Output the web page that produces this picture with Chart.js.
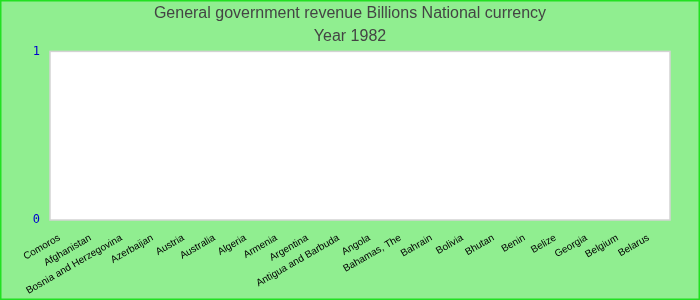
<!DOCTYPE html>
<html>
<head>
<meta charset="utf-8">
<title>General government revenue</title>
<script src="https://cdn.jsdelivr.net/npm/chart.js@4/dist/chart.umd.min.js"></script>
<style>
  html, body { margin: 0; padding: 0; background: #90ee90; }
  #wrap { width: 700px; height: 300px; position: relative; }
</style>
</head>
<body>
<div id="wrap"><canvas id="chart"></canvas></div>
<script>
// --------------------
// Data (nothing is plotted for 1982, every value is missing)
// --------------------
const countries = [
  'Comoros', 'Afghanistan', 'Bosnia and Herzegovina', 'Azerbaijan', 'Austria',
  'Australia', 'Algeria', 'Armenia', 'Argentina', 'Antigua and Barbuda',
  'Angola', 'Bahamas, The', 'Bahrain', 'Bolivia', 'Bhutan',
  'Benin', 'Belize', 'Georgia', 'Belgium', 'Belarus'
];
const revenue = [
  null, null, null, null, null, null, null, null, null, null,
  null, null, null, null, null, null, null, null, null, null
];
const yTicks = [0, 1];
const titleLines = ['General government revenue Billions National currency', 'Year 1982'];

// --------------------
// Plot area background + outer frame
// --------------------
const frame = {
  id: 'frame',
  beforeDraw(chart) {
    const { ctx, chartArea: a } = chart;
    ctx.save();
    ctx.fillStyle = '#ffffff';
    ctx.fillRect(a.left, a.top, a.right - a.left, a.bottom - a.top);
    ctx.strokeStyle = '#d3d3d3';
    ctx.lineWidth = 1.5;
    ctx.strokeRect(a.left, a.top, a.right - a.left, a.bottom - a.top);
    ctx.restore();
  },
  afterDraw(chart) {
    const ctx = chart.ctx;
    ctx.save();
    ctx.strokeStyle = '#22e022';
    ctx.lineWidth = 1.5;
    ctx.strokeRect(0.75, 0.75, chart.width - 1.5, chart.height - 1.5);
    ctx.restore();
  }
};

const ctx = document.getElementById('chart').getContext('2d');
new Chart(ctx, {
  type: 'bar',
  data: {
    labels: countries,
    datasets: [{ label: 'Revenue', data: revenue, backgroundColor: '#3366cc' }]
  },
  options: {
    responsive: true,
    maintainAspectRatio: false,
    animation: false,
    layout: { padding: 0 },
    plugins: {
      legend: { display: false },
      tooltip: { enabled: false },
      title: {
        display: true,
        text: titleLines,
        color: '#444444',
        font: { family: 'Liberation Sans, Arial, sans-serif', size: 16, weight: 'normal', lineHeight: 1.45 },
        padding: { top: 2, bottom: 3 }
      }
    },
    scales: {
      x: {
        grid: { display: false, drawTicks: false },
        border: { display: false },
        ticks: {
          color: '#000000',
          font: { family: 'Liberation Sans, Arial, sans-serif', size: 10 },
          minRotation: 30,
          maxRotation: 30,
          autoSkip: false,
          labelOffset: -6,
          padding: 12
        },
        afterFit(scale) {
          scale.height = 80;
          scale.paddingLeft = 0;
          scale.paddingRight = 30;
        }
      },
      y: {
        min: 0,
        max: 1,
        grid: { display: false, drawTicks: false },
        border: { display: false },
        afterBuildTicks(scale) {
          scale.ticks = yTicks.map(v => ({ value: v }));
        },
        ticks: {
          color: '#0000cd',
          font: { family: 'DejaVu Sans Mono, monospace', size: 12 },
          padding: 10
        },
        afterFit(scale) {
          scale.width = 50;
          scale.paddingTop = 0;
          scale.paddingBottom = 0;
        }
      }
    }
  },
  plugins: [frame]
});
</script>
</body>
</html>
